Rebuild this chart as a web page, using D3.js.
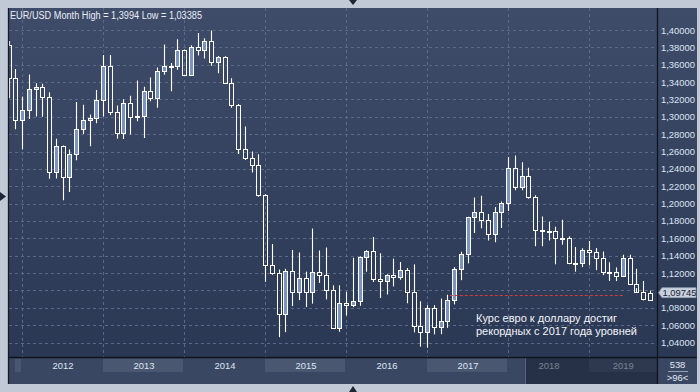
<!DOCTYPE html>
<html><head><meta charset="utf-8">
<script src="https://cdn.jsdelivr.net/npm/d3@7"></script>
<style>html,body{margin:0;padding:0;background:#c1c9d6;}svg{display:block;}</style>
</head><body><svg id="c" width="700" height="392"></svg>
<script>
// ---- DATA (monthly EUR/USD candles) ----
const months = [
"2011-11","2011-12",
"2012-01","2012-02","2012-03","2012-04","2012-05","2012-06","2012-07","2012-08","2012-09","2012-10","2012-11","2012-12",
"2013-01","2013-02","2013-03","2013-04","2013-05","2013-06","2013-07","2013-08","2013-09","2013-10","2013-11","2013-12",
"2014-01","2014-02","2014-03","2014-04","2014-05","2014-06","2014-07","2014-08","2014-09","2014-10","2014-11","2014-12",
"2015-01","2015-02","2015-03","2015-04","2015-05","2015-06","2015-07","2015-08","2015-09","2015-10","2015-11","2015-12",
"2016-01","2016-02","2016-03","2016-04","2016-05","2016-06","2016-07","2016-08","2016-09","2016-10","2016-11","2016-12",
"2017-01","2017-02","2017-03","2017-04","2017-05","2017-06","2017-07","2017-08","2017-09","2017-10","2017-11","2017-12",
"2018-01","2018-02","2018-03","2018-04","2018-05","2018-06","2018-07","2018-08","2018-09","2018-10","2018-11","2018-12",
"2019-01","2019-02","2019-03","2019-04","2019-05","2019-06","2019-07","2019-08","2019-09","2019-10"];
const open = [1.3830,1.3443,
1.2961,1.3079,1.3319,1.3343,1.3233,1.2365,1.2667,1.2307,1.2576,1.2859,1.2958,1.2988,
1.3193,1.3581,1.3056,1.2819,1.3163,1.2995,1.3010,1.3302,1.3220,1.3526,1.3584,1.3590,
1.3765,1.3485,1.3802,1.3771,1.3869,1.3634,1.3692,1.3390,1.3131,1.2630,1.2525,1.2450,
1.2098,1.1289,1.1197,1.0731,1.1220,1.0986,1.1147,1.0985,1.1213,1.1177,1.1004,1.0565,
1.0860,1.0831,1.0873,1.1380,1.1452,1.1130,1.1105,1.1174,1.1157,1.1239,1.0982,1.0590,
1.0520,1.0797,1.0575,1.0651,1.0895,1.1242,1.1424,1.1842,1.1905,1.1812,1.1645,1.1905,
1.2005,1.2413,1.2194,1.2323,1.2078,1.1694,1.1684,1.1690,1.1602,1.1604,1.1312,1.1314,
1.1466,1.1441,1.1372,1.1217,1.1213,1.1169,1.1371,1.1077,1.0986,1.0970];
const high = [1.3873,1.3550,
1.3234,1.3487,1.3386,1.3380,1.3283,1.2747,1.2669,1.2624,1.3172,1.3140,1.3028,1.3308,
1.3711,1.3711,1.3130,1.3203,1.3243,1.3417,1.3346,1.3452,1.3569,1.3833,1.3620,1.3893,
1.3774,1.3825,1.3966,1.3906,1.3994,1.3700,1.3699,1.3444,1.3148,1.2887,1.2600,1.2570,
1.2109,1.1534,1.1240,1.1250,1.1467,1.1436,1.1216,1.1714,1.1460,1.1495,1.1059,1.1059,
1.0985,1.1376,1.1393,1.1464,1.1616,1.1428,1.1185,1.1366,1.1327,1.1258,1.1300,1.0875,
1.0829,1.0829,1.0906,1.0950,1.1268,1.1445,1.1850,1.2070,1.2092,1.1880,1.1961,1.2023,
1.2537,1.2555,1.2476,1.2414,1.2097,1.1852,1.1791,1.1734,1.1815,1.1625,1.1500,1.1486,
1.1570,1.1489,1.1448,1.1324,1.1265,1.1412,1.1412,1.1249,1.1109,1.0998];
const low = [1.3213,1.2858,
1.2624,1.2974,1.3003,1.3002,1.2286,1.2288,1.2040,1.2134,1.2500,1.2802,1.2661,1.2927,
1.3004,1.3019,1.2746,1.2745,1.2796,1.2950,1.2755,1.3178,1.3103,1.3484,1.3295,1.3541,
1.3477,1.3474,1.3707,1.3672,1.3588,1.3502,1.3378,1.3105,1.2571,1.2501,1.2358,1.2080,
1.1098,1.1180,1.0462,1.0519,1.0819,1.0888,1.0808,1.0848,1.1087,1.0896,1.0558,1.0523,
1.0711,1.0808,1.0823,1.1215,1.1097,1.0913,1.0952,1.1046,1.1123,1.0852,1.0517,1.0352,
1.0340,1.0494,1.0495,1.0569,1.0839,1.1118,1.1312,1.1662,1.1717,1.1574,1.1554,1.1718,
1.1915,1.2155,1.2155,1.2055,1.1510,1.1508,1.1575,1.1301,1.1526,1.1302,1.1216,1.1269,
1.1289,1.1234,1.1176,1.1110,1.1107,1.1160,1.1070,1.1027,1.0885,1.0879];
const close = [1.3443,1.2961,
1.3079,1.3319,1.3343,1.3233,1.2365,1.2667,1.2307,1.2576,1.2859,1.2958,1.2988,1.3193,
1.3581,1.3056,1.2819,1.3163,1.2995,1.3010,1.3302,1.3220,1.3526,1.3584,1.3590,1.3765,
1.3485,1.3802,1.3771,1.3869,1.3634,1.3692,1.3390,1.3131,1.2630,1.2525,1.2450,1.2098,
1.1289,1.1197,1.0731,1.1220,1.0986,1.1147,1.0985,1.1213,1.1177,1.1004,1.0565,1.0860,
1.0831,1.0873,1.1380,1.1452,1.1130,1.1105,1.1174,1.1157,1.1239,1.0982,1.0590,1.0520,
1.0797,1.0575,1.0651,1.0895,1.1242,1.1424,1.1842,1.1905,1.1812,1.1645,1.1905,1.2005,
1.2413,1.2194,1.2323,1.2078,1.1694,1.1684,1.1690,1.1602,1.1604,1.1312,1.1314,1.1466,
1.1441,1.1372,1.1217,1.1213,1.1169,1.1371,1.1077,1.0986,1.0899,1.0890];
const priceTicks = [1.04,1.06,1.08,1.10,1.12,1.14,1.16,1.18,1.20,1.22,1.24,1.26,1.28,1.30,1.32,1.34,1.36,1.38,1.40];
const years = ["2011","2012","2013","2014","2015","2016","2017","2018","2019"];
const lastPrice = 1.09745;
const levelLine = {from: 65.3, to: 91.0, value: 1.0945};
const navigatorStart = 76.5;
const titleText = "EUR/USD Month High = 1,3994 Low = 1,03385";
const noteLines = ["Курс евро к доллару достиг", "рекордных с 2017 года уровней"];
const barCount = "538", zoomText = ">96<";

// ---- LAYOUT ----
const W = 700, H = 392;
const L = 8, R = 657, T = 8, B = 357, AR = 697, BB = 384;
const FONT = "'Liberation Sans', Arial, sans-serif";

const svg = d3.select("#c");
const defs = svg.append("defs");
const grad = defs.append("linearGradient").attr("id","bg").attr("x1",0).attr("y1",0).attr("x2",0).attr("y2",1);
grad.append("stop").attr("offset","0%").attr("stop-color","#3f4c69");
grad.append("stop").attr("offset","100%").attr("stop-color","#2b3854");
defs.append("clipPath").attr("id","clip").append("rect").attr("x",8.8).attr("y",T).attr("width",R-8.8).attr("height",B-T);
defs.append("clipPath").attr("id","bandclip").append("rect").attr("x",15).attr("y",B).attr("width",R-15).attr("height",BB-B);

const x = d3.scaleLinear().domain([0, months.length-1]).range([9, 650.25]);
const y = d3.scaleLinear().domain([1.04, 1.40]).range([342.5, 30]);
const step = x(1) - x(0);

svg.append("rect").attr("width",W).attr("height",H).attr("fill","#c1c9d6");
svg.append("rect").attr("x",L).attr("y",T).attr("width",AR-L).attr("height",B-T).attr("fill","url(#bg)");
svg.append("rect").attr("x",L).attr("y",B).attr("width",AR-L).attr("height",BB-B).attr("fill","#3a4762");

// grid
const yearIdx = months.map((m,i)=>m.endsWith("-01")?i:-1).filter(i=>i>=0);
const grid = svg.append("g").attr("stroke","#5a6987").attr("stroke-width",1).attr("stroke-dasharray","3,3");
grid.selectAll("line.h").data(priceTicks).join("line")
  .attr("x1",L+1).attr("x2",R-1)
  .attr("y1",d=>Math.round(y(d))+0.5).attr("y2",d=>Math.round(y(d))+0.5);
grid.selectAll("line.v").data(yearIdx).join("line")
  .attr("x1",d=>Math.floor(x(d))+0.5).attr("x2",d=>Math.floor(x(d))+0.5)
  .attr("y1",T).attr("y2",B);

// year bands
const bandG = svg.append("g").attr("clip-path","url(#bandclip)");
const yearData = years.map(yr=>{
  const idx = months.indexOf(yr+"-01");
  const s = idx>=0 ? x(idx) : x(months.indexOf((+yr+1)+"-01")) - 12*step;
  return {yr, s, e: s + 12*step};
});
bandG.selectAll("rect").data(yearData.filter(d=>(+d.yr)%2===1)).join("rect")
  .attr("x",d=>Math.floor(d.s)).attr("y",359).attr("width",d=>Math.floor(d.e)-Math.floor(d.s)-1).attr("height",13)
  .attr("fill","#4a5771");
svg.append("g").selectAll("text").data(yearData.filter(d=>Math.min(d.e,R)-Math.max(d.s,15)>30)).join("text")
  .attr("x",d=>(Math.max(d.s,15)+Math.min(d.e,R))/2).attr("y",369)
  .attr("text-anchor","middle").attr("font-family",FONT).attr("font-size",9.4).attr("fill","#dde6f3")
  .text(d=>d.yr);
// navigator overlay
svg.append("rect").attr("x",x(navigatorStart)).attr("y",B).attr("width",R-x(navigatorStart)).attr("height",BB-B)
  .attr("fill","#121a2c").attr("opacity",0.5);
svg.append("line").attr("x1",Math.floor(x(navigatorStart))+0.5).attr("x2",Math.floor(x(navigatorStart))+0.5)
  .attr("y1",B).attr("y2",BB).attr("stroke","#56637d");

// candles
const candles = months.map((m,i)=>({m,i,o:open[i],h:high[i],l:low[i],c:close[i]}));
const cg = svg.append("g").attr("clip-path","url(#clip)");
const geo = d => {
  const cx = Math.floor(x(d.i))+0.5;
  const bt = Math.round(y(Math.max(d.o,d.c)))+0.5;
  const bb = Math.max(Math.round(y(Math.min(d.o,d.c)))+0.5, bt+1);
  return {cx, bt, bb};
};
cg.selectAll("line.up").data(candles).join("line").attr("class","up")
  .attr("x1",d=>geo(d).cx).attr("x2",d=>geo(d).cx)
  .attr("y1",d=>y(d.h)).attr("y2",d=>geo(d).bt)
  .attr("stroke","#ffffff").attr("stroke-width",1.1);
cg.selectAll("line.dn").data(candles).join("line").attr("class","dn")
  .attr("x1",d=>geo(d).cx).attr("x2",d=>geo(d).cx)
  .attr("y1",d=>geo(d).bb).attr("y2",d=>y(d.l))
  .attr("stroke","#ffffff").attr("stroke-width",1.1);
cg.selectAll("rect.body").data(candles).join("rect").attr("class","body")
  .attr("x",d=>geo(d).cx-2).attr("width",4)
  .attr("y",d=>geo(d).bt).attr("height",d=>geo(d).bb-geo(d).bt)
  .attr("fill",d=>d.c>d.o?"#7b94c0":"none")
  .attr("stroke","#ffffff").attr("stroke-width",1);

// red level line
svg.append("line").attr("x1",x(levelLine.from)).attr("x2",x(levelLine.to))
  .attr("y1",Math.round(y(levelLine.value))+0.5).attr("y2",Math.round(y(levelLine.value))+0.5)
  .attr("stroke","#d43a3a").attr("stroke-width",1).attr("stroke-dasharray","3,2");

// frame lines
svg.append("line").attr("x1",8.5).attr("x2",8.5).attr("y1",T).attr("y2",BB).attr("stroke","#141a27").attr("stroke-width",1.3);
svg.append("line").attr("x1",L).attr("x2",AR).attr("y1",B+0.5).attr("y2",B+0.5).attr("stroke","#0f141e").attr("stroke-width",1.3);
svg.append("line").attr("x1",R+0.5).attr("x2",R+0.5).attr("y1",T).attr("y2",BB).attr("stroke","#0f141e").attr("stroke-width",1.3);

// right axis
const yAxis = d3.axisRight(y)
  .tickValues(priceTicks.filter(v=>Math.abs(y(v)-y(lastPrice))>8))
  .tickSize(0).tickPadding(4)
  .tickFormat(v=>v.toFixed(5).replace(".",","));
const gy = svg.append("g").attr("transform",`translate(${R},0)`).call(yAxis)
  .attr("font-family",FONT).attr("font-size",9.4);
gy.select(".domain").remove();
gy.selectAll("text").attr("fill","#dce5f3");

// last price label
const py = y(lastPrice);
svg.append("path")
  .attr("d",`M${R+1.5},${py} L${R+5},${py-5} L${AR-1},${py-5} L${AR-1},${py+5} L${R+5},${py+5} Z`)
  .attr("fill","#c8d1de").attr("stroke","#8a96aa").attr("stroke-width",0.8);
svg.append("text").attr("x",R+5.5).attr("y",py+3.4).attr("font-family",FONT).attr("font-size",9.4)
  .attr("fill","#1b2333").text(d3.format(".5f")(lastPrice).replace(".",","));

// title
svg.append("text").attr("x",10).attr("y",18.5).attr("font-family",FONT).attr("font-size",10)
  .attr("textLength",192).attr("lengthAdjust","spacingAndGlyphs")
  .attr("fill","#e9eef7").text(titleText);

// annotation
svg.append("text").attr("x",476).attr("y",321.7).attr("font-family",FONT).attr("font-size",11.6)
  .attr("textLength",141).attr("lengthAdjust","spacingAndGlyphs").attr("fill","#f2f5fa").text(noteLines[0]);
svg.append("text").attr("x",476).attr("y",334.5).attr("font-family",FONT).attr("font-size",11.6)
  .attr("textLength",161).attr("lengthAdjust","spacingAndGlyphs").attr("fill","#f2f5fa").text(noteLines[1]);

// bottom-right counters
svg.append("text").attr("x",677.5).attr("y",368.3).attr("text-anchor","middle").attr("font-family",FONT)
  .attr("font-size",9.4).attr("fill","#e2e9f4").text(barCount);
svg.append("line").attr("x1",668).attr("x2",688).attr("y1",371.5).attr("y2",371.5).attr("stroke","#aeb8c8").attr("stroke-width",0.8);
svg.append("text").attr("x",677.5).attr("y",380.5).attr("text-anchor","middle").attr("font-family",FONT)
  .attr("font-size",9.4).attr("fill","#e2e9f4").text(zoomText);

// chrome markers
svg.append("path").attr("d","M349,0 L357,0 L353,5 Z").attr("fill","#1c2636");
svg.append("path").attr("d","M349,392 L357,392 L353,386 Z").attr("fill","#1c2636");
svg.append("path").attr("d","M0,192 L0,201 L6,196.5 Z").attr("fill","#1c2636");
</script>
</body></html>
